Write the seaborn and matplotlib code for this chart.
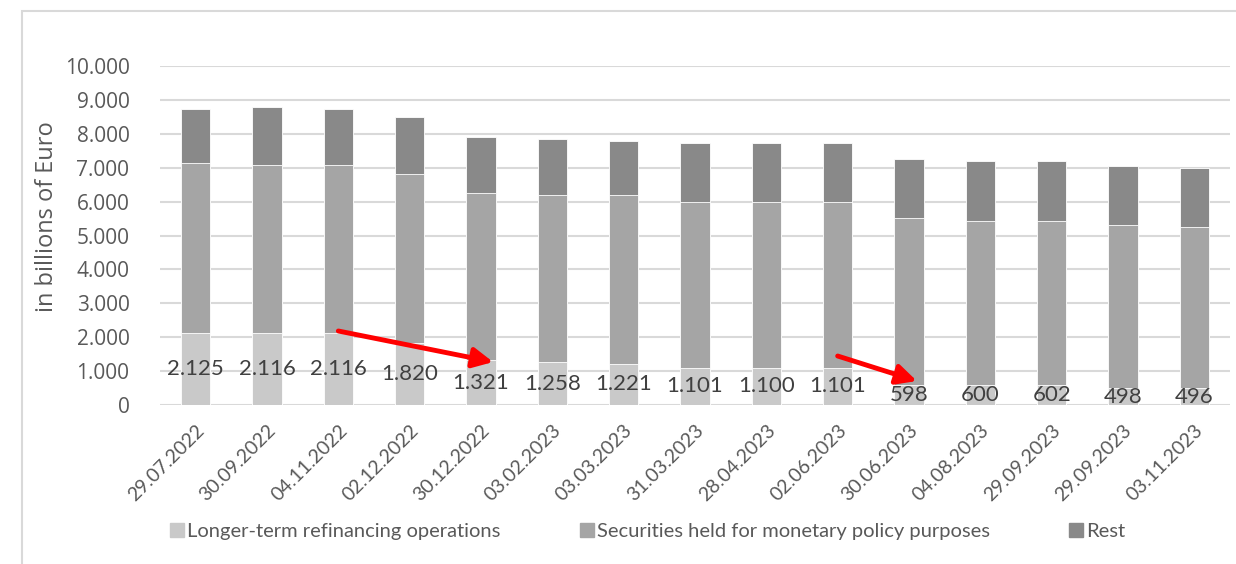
import pandas as pd
import matplotlib
matplotlib.use('Agg')
import matplotlib.pyplot as plt
import seaborn as sns
from matplotlib.lines import Line2D
from matplotlib.patches import Rectangle

# --- Data (billions of Euro) ---
dates = ['29.07.2022', '30.09.2022', '04.11.2022', '02.12.2022', '30.12.2022',
         '03.02.2023', '03.03.2023', '31.03.2023', '28.04.2023', '02.06.2023',
         '30.06.2023', '04.08.2023', '29.09.2023', '29.09.2023', '03.11.2023']
ltro = [2125, 2116, 2116, 1820, 1321, 1258, 1221, 1101, 1100, 1101, 598, 600, 602, 498, 496]
securities = [5002, 4952, 4952, 4982, 4935, 4940, 4977, 4899, 4900, 4899, 4912, 4822, 4820, 4806, 4749]
rest = [1608, 1735, 1667, 1679, 1664, 1663, 1595, 1735, 1735, 1735, 1735, 1764, 1764, 1756, 1745]

series_names = ['Longer-term refinancing operations',
                'Securities held for monetary policy purposes', 'Rest']
colors = ['#C9C9C9', '#A5A5A5', '#898989']

# --- Styling ---
sns.set_theme(style="white")
plt.rcParams['font.family'] = ['Open Sans', 'DejaVu Sans']
plt.rcParams['axes.unicode_minus'] = False

df = pd.DataFrame({'date': range(len(dates)), 'ltro': ltro,
                   'sec': securities, 'rest': rest})
df['sec_top'] = df['ltro'] + df['sec']
df['total'] = df['sec_top'] + df['rest']

fig = plt.figure(figsize=(12.36, 5.64), dpi=100)
ax = fig.add_axes([160 / 1236, 1 - 405 / 564, 1070 / 1236, 339 / 564])

# outer chart frame
fig.patches.append(Rectangle((22 / 1236, -0.05), 1.1, 1 - 10.7 / 564 + 0.05,
                             transform=fig.transFigure, fill=False,
                             edgecolor='#D9D9D9', linewidth=1.5))

x_labels = [str(i) for i in df['date']]
for col, c in zip(['total', 'sec_top', 'ltro'], colors[::-1]):
    sns.barplot(x=x_labels, y=df[col].tolist(), color=c, width=0.41,
                edgecolor='white', linewidth=0.6, saturation=1, ax=ax, zorder=2)

lab = [f"{v:,}".replace(',', '.') for v in ltro]
ax.bar_label(ax.containers[-1], labels=lab, label_type='center',
             fontsize=16, color='#404040', family=['Lato', 'DejaVu Sans'])

ax.set_ylim(0, 10000)
ax.set_xlim(-0.5, len(dates) - 0.5)
ax.set_yticks(range(0, 10001, 1000))
ax.set_yticklabels([f"{v:,}".replace(',', '.') for v in range(0, 10001, 1000)],
                   fontsize=15, color='#595959')
ax.set_xticks(range(len(dates)))
ax.set_xticklabels(dates, rotation=45, ha='right', rotation_mode='anchor',
                   fontsize=14, color='#595959', family=['Lato', 'DejaVu Sans'])
ax.tick_params(axis='y', length=0, pad=22)
ax.tick_params(axis='x', length=0, pad=12)
ax.yaxis.grid(True, color='#D9D9D9', linewidth=1.5, zorder=0)
ax.set_axisbelow(True)
for s in ax.spines.values():
    s.set_visible(False)
ax.set_ylabel('in billions of Euro', fontsize=17, color='#595959')
ax.yaxis.set_label_coords(-0.094, 0.557)
ax.set_xlabel('')

# red arrows
arrow = dict(arrowstyle='-|>,head_length=1.0,head_width=0.5', color='#FF0000',
             lw=3.5, shrinkA=0, shrinkB=0)
ax.annotate('', xy=(4.17, 1268), xytext=(2.0, 2183), arrowprops=arrow, zorder=5)
ax.annotate('', xy=(10.11, 708), xytext=(9.0, 1445), arrowprops=arrow, zorder=5)

handles = [Line2D([], [], marker='s', linestyle='', markersize=10,
                  markerfacecolor=c, markeredgecolor=c) for c in colors]
fig.legend(handles, series_names, loc='center', ncol=3,
           bbox_to_anchor=(646 / 1236, 1 - 531 / 564), frameon=False,
           handletextpad=0.0, columnspacing=3.8, handlelength=1.0,
           labelcolor='#595959', prop={'family': ['Lato', 'DejaVu Sans'], 'size': 14.5})

fig.savefig('out.png', dpi=100)
